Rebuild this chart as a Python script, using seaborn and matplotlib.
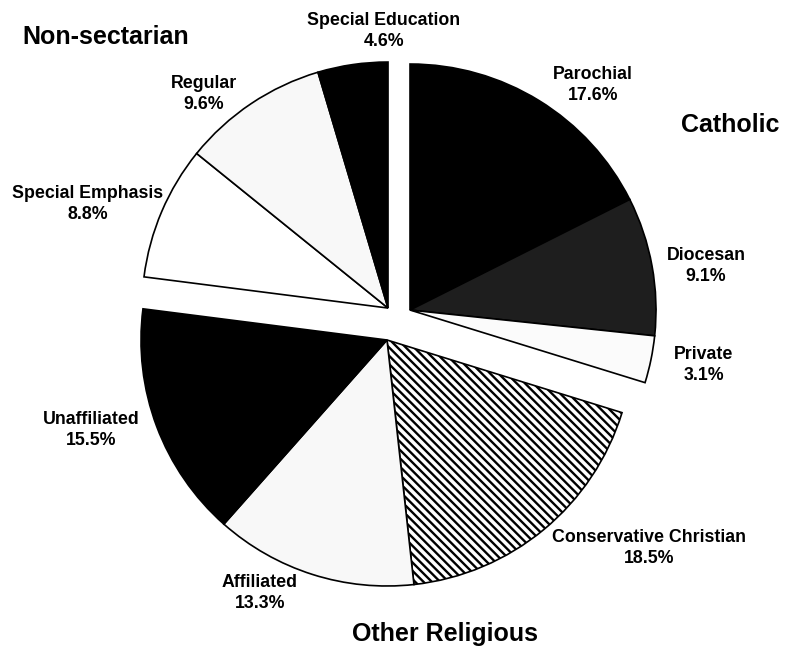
import matplotlib
matplotlib.use("Agg")
import matplotlib.pyplot as plt
import seaborn as sns
import numpy as np

# ---- data ----
categories = ["Parochial", "Diocesan", "Private",
              "Conservative Christian", "Affiliated", "Unaffiliated",
              "Special Emphasis", "Regular", "Special Education"]
values = [17.6, 9.1, 3.1, 18.5, 13.3, 15.5, 8.8, 9.6, 4.6]
groups = ["Catholic", "Catholic", "Catholic",
          "Other Religious", "Other Religious", "Other Religious",
          "Non-sectarian", "Non-sectarian", "Non-sectarian"]
group_names = ["Catholic", "Other Religious", "Non-sectarian"]

# ---- style ----
sns.set_theme(style="white")
plt.rcParams["font.family"] = ["Liberation Sans", "DejaVu Sans"]
plt.rcParams["hatch.linewidth"] = 1.7
plt.rcParams["text.color"] = "black"

W, H = 787, 647
fig = plt.figure(figsize=(W / 100, H / 100), dpi=100)
fig.patch.set_facecolor("white")

R_PX = 246.0
cx, cy = 397.7, 319.1
half = 300.0
ax = fig.add_axes([(cx - half) / W, (H - cy - half) / H, 2 * half / W, 2 * half / H])

face = {"Parochial": "#000000", "Diocesan": "#1e1e1e", "Private": "#fbfbfb",
        "Conservative Christian": "#ffffff", "Affiliated": "#f8f8f8",
        "Unaffiliated": "#000000", "Special Emphasis": "#ffffff",
        "Regular": "#f8f8f8", "Special Education": "#000000"}
hatch = {"Conservative Christian": "\\\\\\\\"}

wedges, _ = ax.pie(values, startangle=90, counterclock=False, radius=1.0,
                   colors=[face[c] for c in categories],
                   wedgeprops=dict(edgecolor="black", linewidth=1.2))

# group explosion offsets (pixels -> radius units)
offsets = {"Catholic": (15.3 * 0.805, 15.3 * 0.593),
           "Other Religious": (-10.7, -20.9),
           "Non-sectarian": (-14.7 * 0.659, 14.7 * 0.752)}
for w, c, g in zip(wedges, categories, groups):
    dx, dy = offsets[g]
    w.set_center((dx / R_PX, dy / R_PX))
    if c in hatch:
        w.set_hatch(hatch[c])

lim = half / R_PX
ax.set_xlim(-lim, lim)
ax.set_ylim(-lim, lim)
ax.set_aspect("equal")
ax.axis("off")

# ---- labels ----
label_pos = {"Parochial": (593, 85), "Diocesan": (706, 266), "Private": (704, 365),
             "Conservative Christian": (649, 548), "Affiliated": (260, 593),
             "Unaffiliated": (91, 430), "Special Emphasis": (88, 204),
             "Regular": (204, 94), "Special Education": (384, 31)}
for c, v in zip(categories, values):
    x, y = label_pos[c]
    fig.text(x / W, 1 - y / H, f"{c}\n{v}%", ha="center", va="center",
             fontsize=12.8, fontweight="bold", linespacing=1.35, color="black")

group_pos = {"Catholic": (730, 125), "Other Religious": (445, 634),
             "Non-sectarian": (106, 37)}
for g in group_names:
    x, y = group_pos[g]
    fig.text(x / W, 1 - y / H, g, ha="center", va="center",
             fontsize=18, fontweight="bold", color="black")

fig.savefig("out.png", dpi=100, facecolor="white")
